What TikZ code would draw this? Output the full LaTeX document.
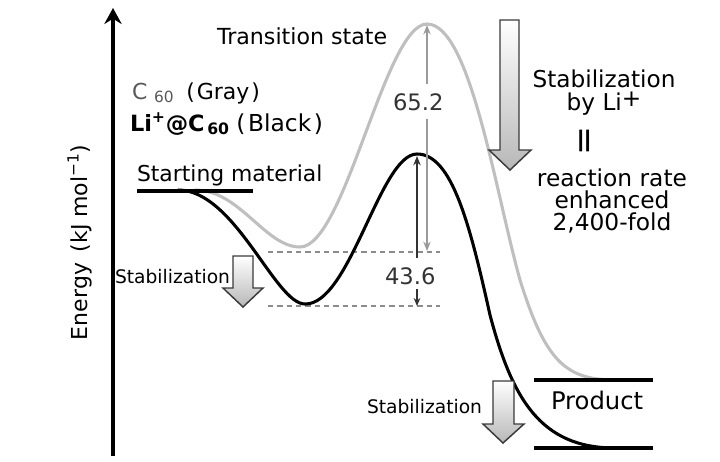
\documentclass[tikz,border=0pt]{standalone}
\usepackage{fontspec}
\setmainfont{DejaVu Sans}
\usetikzlibrary{arrows.meta}
\definecolor{curvegray}{HTML}{BFBFBF}
\definecolor{dimgray}{HTML}{9A9A9A}
\definecolor{dimdark}{HTML}{333333}
\definecolor{dashgray}{HTML}{8C8C8C}
\definecolor{arrowedge}{HTML}{3A3A3A}
\newcommand{\fs}[1]{\fontsize{#1}{#1}\selectfont}
\tikzset{
  lbl/.style={inner sep=0pt, outer sep=0pt},
  levelline/.style={line width=2.4pt, black},
  curvegrayline/.style={line width=2.3pt, curvegray, line cap=round},
  curveblackline/.style={line width=2.3pt, black, line cap=round},
  dimline/.style={line width=1.1pt, dimgray},
  dimlinedark/.style={line width=1.1pt, dimdark},
  dashline/.style={line width=1.1pt, dashgray, dash pattern=on 4pt off 3pt},
  blockarr/.style={draw=arrowedge, line width=1.1pt, line join=miter, top color=white, bottom color=black!28},
}
\begin{document}
\begin{tikzpicture}[x=0.75pt,y=-0.75pt]
\useasboundingbox (0,0) rectangle (720,461);

% axis
\coordinate (axbot) at (113,456);
\coordinate (axtop) at (113,8);
\draw[line width=2.3pt, -{Stealth[length=12pt,width=13pt,inset=4pt]}] (axbot) -- (axtop);

% dashed reference lines
\coordinate (dAl) at (268,252); \coordinate (dAr) at (440,252);
\coordinate (dBl) at (268,306); \coordinate (dBr) at (440,306);
\draw[dashline] (dAl) -- (dAr);
\draw[dashline] (dBl) -- (dBr);

% gray curve (C60)
\draw[curvegrayline] (195,190) .. controls (240,190) and (265,247) .. (300,247)
  .. controls (345,247) and (385,24) .. (427,24)
  .. controls (470,24) and (495,190) .. (520,280)
  .. controls (545,360) and (565,380) .. (615,380);

% black curve (Li+@C60)
\draw[curveblackline] (178,190) .. controls (235,190) and (275,304) .. (305,304)
  .. controls (350,305) and (380,154) .. (417,154)
  .. controls (452,154) and (470,225) .. (490,315)
  .. controls (512,398) and (540,448) .. (615,448);

% level lines
\coordinate (sL) at (137,191); \coordinate (sR) at (253,191);
\coordinate (pAl) at (534,380); \coordinate (pAr) at (653,380);
\coordinate (pBl) at (534,448); \coordinate (pBr) at (653,448);
\draw[levelline] (sL) -- (sR);
\draw[levelline] (pAl) -- (pAr);
\draw[levelline] (pBl) -- (pBr);

% dimension labels
\node[lbl, anchor=base west, text=dimdark] (v652) at (393,110) {\fs{17}65.2};
\node[lbl, anchor=base west, text=dimdark] (v436) at (385,284) {\fs{17}43.6};

% gray dimension arrow (65.2)
\coordinate (gTop) at (427,25);
\coordinate (gBot) at (427,251);
\coordinate (gA) at (427,84);
\coordinate (gB) at (427,119);
\draw[dimline, -{Stealth[length=7pt,width=5.5pt]}] (gA) -- (gTop);
\draw[dimline, -{Stealth[length=7pt,width=5.5pt]}] (gB) -- (gBot);

% black dimension arrow (43.6)
\coordinate (bTop) at (417,156);
\coordinate (bA) at (417,258);
\coordinate (bB) at (417,289);
\coordinate (bBot) at (417,306);
\draw[dimlinedark, -{Stealth[length=7pt,width=5.5pt]}] (bA) -- (bTop);
\draw[dimlinedark, -{Stealth[length=6pt,width=5pt]}] (bB) -- (bBot);

% block arrows
\draw[blockarr] (500,20) -- (519,20) -- (519,150) -- (531,150) -- (510,170) -- (489,150) -- (500,150) -- cycle;
\draw[blockarr] (233,256) -- (253,256) -- (253,288) -- (263,288) -- (243,307) -- (223,288) -- (233,288) -- cycle;
\draw[blockarr] (493,381) -- (514,381) -- (514,424) -- (524,424) -- (503,443) -- (483,424) -- (493,424) -- cycle;

% texts
\node[lbl, anchor=base west] (ts) at (217,44) {\fs{16.6}Transition state};
\node[lbl, anchor=base west] (sm) at (137,181) {\fs{16.4}Starting material};
\node[lbl, anchor=base west] (cg) at (132,99) {\fs{16.5}{\color{black!65}C\hspace{5pt}\textsubscript{60}}\hspace{9pt}(\hspace{1.5pt}Gray\hspace{1.5pt})};
\node[lbl, anchor=base west] (cb) at (130,131) {\fs{16.8}{\bfseries Li\textsuperscript{+}@C\hspace{2pt}\textsubscript{60}}\hspace{5pt}{\fs{17.5}(\hspace{2pt}Black\hspace{2pt})}};
\node[lbl, anchor=base west] (stl) at (115,283) {\fs{14}Stabilization};
\node[lbl, anchor=base west] (stb) at (367,413) {\fs{14}Stabilization};
\node[lbl, anchor=base west] (prod) at (551,409) {\fs{18.2}Product};
\node[lbl, anchor=base, align=center, font=\fontsize{17.4}{17.2}\selectfont] (str) at (604,110) {Stabilization\\by Li\raisebox{3pt}{+}};
\node[lbl, rotate=90] (eq) at (588,141) {\fs{26}=};
\node[lbl, anchor=base, align=center, font=\fontsize{17.5}{16.2}\selectfont] (rr) at (612,230) {reaction rate\\enhanced\\2,400-fold};
\node[lbl, anchor=base west, rotate=90] (en) at (87,340) {\fs{16.5}Energy\hspace{8pt}(kJ mol\textsuperscript{−1})};
\end{tikzpicture}
\end{document}
